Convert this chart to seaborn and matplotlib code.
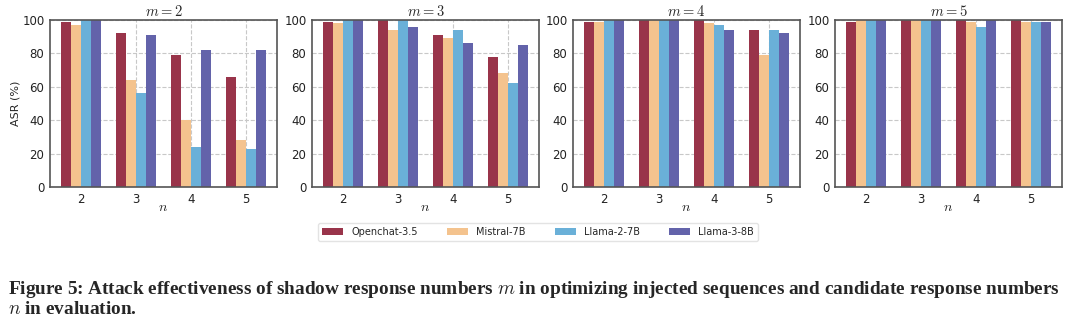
import matplotlib
matplotlib.use("Agg")
import matplotlib.pyplot as plt
import seaborn as sns
import pandas as pd

models = ["Openchat-3.5", "Mistral-7B", "Llama-2-7B", "Llama-3-8B"]
n_values = ["2", "3", "4", "5"]
m_values = [2, 3, 4, 5]

# ASR (%) per m; rows = n (2..5), columns = models
asr_m2 = [[99, 97, 100, 100], [92, 64, 56, 91], [79, 40, 24, 82], [66, 28, 23, 82]]
asr_m3 = [[99, 98, 100, 100], [100, 94, 100, 96], [91, 89, 94, 86], [78, 68, 62, 85]]
asr_m4 = [[99, 99, 100, 100], [100, 100, 100, 100], [100, 98, 97, 94], [94, 79, 94, 92]]
asr_m5 = [[99, 100, 100, 100], [100, 100, 100, 100], [100, 99, 96, 100], [100, 99, 99, 99]]
all_asr = [asr_m2, asr_m3, asr_m4, asr_m5]

colors = ["#99344a", "#f4c38e", "#6ab0d8", "#6363aa"]

sns.set_style("white")
plt.rcParams["font.family"] = ["DejaVu Sans"]
plt.rcParams["mathtext.fontset"] = "cm"

fig = plt.figure(figsize=(10.8, 3.32), dpi=100)
W, H = 1080, 332
lefts = [50, 312, 573, 835]
pw = 227
top, bottom = 20, 187

axes = []
for i, (m, asr) in enumerate(zip(m_values, all_asr)):
    ax = fig.add_axes([lefts[i] / W, 1 - bottom / H, pw / W, (bottom - top) / H])
    rows = []
    for j, n in enumerate(n_values):
        for k, model in enumerate(models):
            rows.append({"n": n, "model": model, "asr": asr[j][k]})
    df = pd.DataFrame(rows)
    sns.barplot(data=df, x="n", y="asr", hue="model", hue_order=models, order=n_values,
                palette=colors, width=0.72, ax=ax, legend=(i == 0), saturation=1,
                linewidth=0, edgecolor="none")
    ax.set_xlim(-0.56, 3.56)
    ax.set_ylim(0, 100)
    ax.set_yticks([0, 20, 40, 60, 80, 100])
    ax.grid(True, linestyle="--", color="#c8c8c8", linewidth=0.8)
    ax.set_axisbelow(True)
    for s in ax.spines.values():
        s.set_color("#555555")
        s.set_linewidth(1.2)
    ax.tick_params(axis="both", labelsize=8.5, length=2.5, color="#555555", labelcolor="#222222", pad=1.5)
    ax.set_title(r"$m = %d$" % m, fontsize=10.5, pad=3)
    ax.set_xlabel(r"$n$", fontsize=10)
    ax.xaxis.label.set_va("center")
    ax.xaxis.set_label_coords(0.5, -20 / (bottom - top))
    if i == 0:
        ax.set_ylabel("ASR (%)", fontsize=8, labelpad=1)
        handles, labels = ax.get_legend_handles_labels()
        ax.get_legend().remove()
    else:
        ax.set_ylabel("")
    axes.append(ax)

fig.legend(handles, labels, loc="center", bbox_to_anchor=(538 / W, 1 - 232 / H), ncol=4,
           fontsize=7, handlelength=2.2, handleheight=0.7, columnspacing=3.0,
           frameon=True, edgecolor="#dddddd", fancybox=True, borderpad=0.4)

fig.text(8 / W, 1 - 289 / H,
         r"Figure 5: Attack effectiveness of shadow response numbers $m$ in optimizing injected sequences and candidate response numbers",
         fontsize=13.9, fontweight="bold", family=["Liberation Serif"], va="center", ha="left")
fig.text(8 / W, 1 - 310 / H, r"$n$ in evaluation.",
         fontsize=13.9, fontweight="bold", family=["Liberation Serif"], va="center", ha="left")

fig.savefig("out.png", dpi=100)
